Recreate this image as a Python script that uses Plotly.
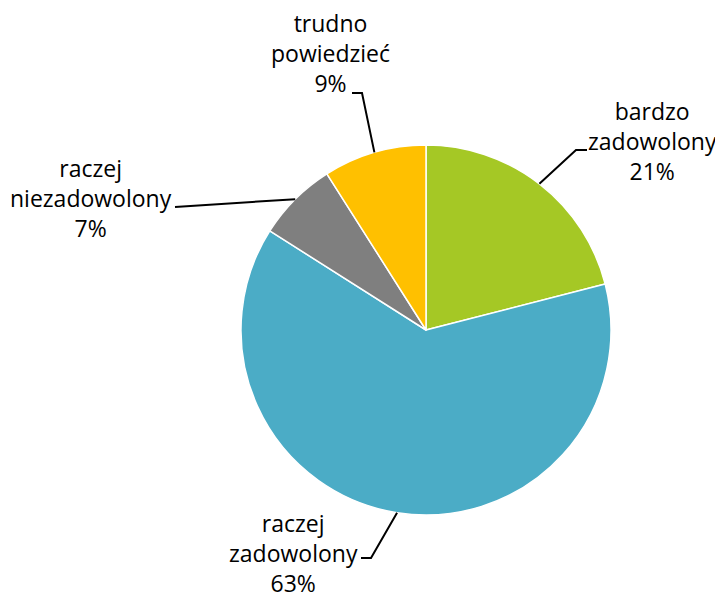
import math
import plotly.graph_objects as go

# Survey answers (Polish), percent
labels = ["bardzo zadowolony", "raczej zadowolony", "raczej niezadowolony", "trudno powiedzieć"]
label_text = ["bardzo<br>zadowolony", "raczej<br>zadowolony", "raczej<br>niezadowolony", "trudno<br>powiedzieć"]
values = [21, 63, 7, 9]
colors = ["#A5C825", "#4BACC6", "#7F7F7F", "#FFC000"]

W, H = 723, 596
OFF = 8  # page body margin shifts the figure by 8px
cx, cy, r = 426, 330, 185

# label block centres and elbow points (pixels, as seen on screen)
text_pos = [(652, 141), (293, 553), (91, 198), (330, 53)]
elbows = [[(576, 150), (587, 150)], [(371, 558), (361, 558)], [(175, 207)], [(362, 93), (352, 93)]]


def px(x, y):
    return (x - OFF) / W, 1 - (y - OFF) / H


fig = go.Figure()
fig.add_trace(go.Pie(
    labels=labels,
    values=values,
    sort=False,
    direction="clockwise",
    rotation=0,
    textinfo="none",
    hoverinfo="label+percent",
    marker=dict(colors=colors, line=dict(color="white", width=1.5)),
    domain=dict(x=[(cx - r - OFF) / W, (cx + r - OFF) / W],
                y=[1 - (cy + r - OFF) / H, 1 - (cy - r - OFF) / H]),
    showlegend=False,
))

shapes = []
annotations = []
total = sum(values)
cum = 0
for i, v in enumerate(values):
    mid = (cum + v / 2) / total * 2 * math.pi
    cum += v
    ex = cx + r * math.sin(mid)
    ey = cy - r * math.cos(mid)
    pts = [(ex, ey)] + elbows[i]
    path = ""
    for j, (x, y) in enumerate(pts):
        X, Y = px(x, y)
        path += ("M" if j == 0 else "L") + f"{X:.5f},{Y:.5f} "
    shapes.append(dict(type="path", xref="paper", yref="paper", path=path,
                       line=dict(color="black", width=2)))
    tx, ty = px(*text_pos[i])
    annotations.append(dict(
        text=f"{label_text[i]}<br>{v}%", x=tx, y=ty, xref="paper", yref="paper",
        xanchor="center", yanchor="middle", showarrow=False, align="center",
        font=dict(family="Open Sans", size=23, color="black"),
    ))

fig.update_layout(
    width=W, height=H,
    margin=dict(l=0, r=0, t=0, b=0),
    paper_bgcolor="white",
    shapes=shapes,
    annotations=annotations,
)

fig.write_html("out.html")
